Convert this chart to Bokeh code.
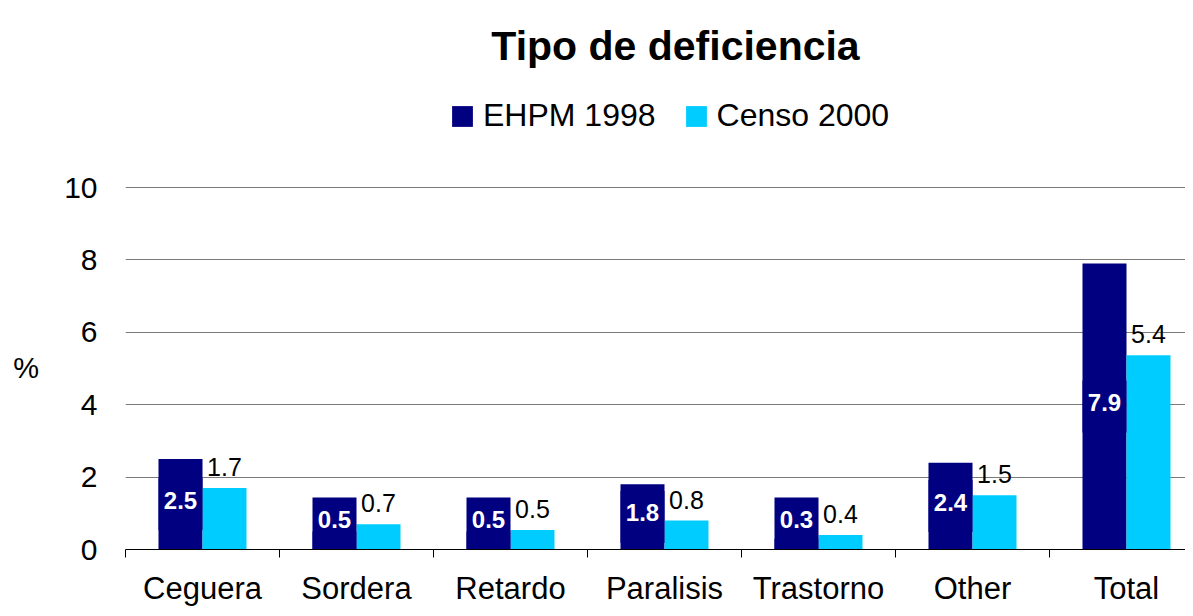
from bokeh.plotting import figure
from bokeh.layouts import column
from bokeh.models import (ColumnDataSource, Range1d, FixedTicker, Label, Legend, LegendItem)
from bokeh.embed import file_html
from bokeh.resources import INLINE
from bokeh.core.properties import value

# ---- data ----
categories = ["Ceguera", "Sordera", "Retardo", "Paralisis", "Trastorno", "Other", "Total"]
ehpm_1998 = [2.5, 0.5, 0.5, 1.8, 0.3, 2.4, 7.9]
censo_2000 = [1.7, 0.7, 0.54, 0.8, 0.4, 1.5, 5.37]
y_ticks = [0, 2, 4, 6, 8, 10]
title_text = "Tipo de deficiencia"
series_names = ["EHPM 1998", "Censo 2000"]
y_label = "%"

FONT = "Liberation Sans"
NAVY = "#000080"
CYAN = "#00CCFF"

W = 1185
HEADER_H = 166
MAIN_H = 608 - HEADER_H
LEFT = 125
CAT_PX = 154.0
PX_PER_UNIT = 36.3
frame_w = W - LEFT

# ---------------- header (title + legend) ----------------
hdr = figure(width=W, height=HEADER_H, output_backend="svg", toolbar_location=None,
             x_range=Range1d(LEFT, W), y_range=Range1d(HEADER_H, 0),
             x_axis_type=None, y_axis_type=None, outline_line_color=None,
             min_border_left=LEFT, min_border_right=0, min_border_top=0, min_border_bottom=0)
hdr.xgrid.grid_line_color = None
hdr.ygrid.grid_line_color = None

hdr.add_layout(Label(x=675, y=45, text=title_text, text_font=FONT, text_font_style="bold",
                     text_font_size="41px", text_align="center", text_baseline="alphabetic",
                     text_color="black"))

# legend swatches (renderers hold no visible point)
swatch = ColumnDataSource(dict(x=[float("nan")], top=[float("nan")]))
lr_d = hdr.vbar(x="x", top="top", width=1, source=swatch, fill_color=NAVY, line_color=None)
lr_l = hdr.vbar(x="x", top="top", width=1, source=swatch, fill_color=CYAN, line_color=None)
legend = Legend(items=[LegendItem(label=series_names[0], renderers=[lr_d]),
                       LegendItem(label=series_names[1], renderers=[lr_l])],
                location=(449 - LEFT, 32), orientation="horizontal", padding=0, margin=0,
                border_line_color=None, background_fill_alpha=0,
                glyph_width=26, glyph_height=26, label_standoff=8, spacing=27,
                label_text_font=FONT, label_text_font_size="32px", label_height=26,
                label_text_color="black")
hdr.add_layout(legend, "center")

# ---------------- main chart ----------------
centers = [i + 0.5 for i in range(len(categories))]
bw = 0.2857
x_dark = [c - bw / 2 for c in centers]
x_light = [c + bw / 2 for c in centers]
box_h_px = 52
box_y = [max(v / 2, (box_h_px / 2) / PX_PER_UNIT) for v in ehpm_1998]

src = ColumnDataSource(dict(
    xd=x_dark, xl=x_light, ehpm=ehpm_1998, censo=censo_2000, box_y=box_y,
    lab_d=[f"{v:.1f}" for v in ehpm_1998],
    lab_l=[f"{v:.1f}" for v in censo_2000],
))

p = figure(width=W, height=MAIN_H, output_backend="svg", toolbar_location=None,
           x_range=Range1d(0, frame_w / CAT_PX), y_range=Range1d(0, 10.03),
           min_border_left=LEFT, min_border_right=0, min_border_top=20,
           min_border_bottom=59, outline_line_color=None)

p.ygrid.ticker = FixedTicker(ticks=y_ticks[1:])
p.ygrid.grid_line_color = "#7a7a7a"
p.ygrid.grid_line_width = 1
p.xgrid.grid_line_color = None

p.vbar(x="xd", top="ehpm", bottom=0, width=bw, source=src, fill_color=NAVY, line_color=None)
p.vbar(x="xl", top="censo", bottom=0, width=bw, source=src, fill_color=CYAN, line_color=None)
# navy label boxes behind dark-series labels
p.rect(x="xd", y="box_y", width=bw, height=box_h_px, height_units="screen",
       source=src, fill_color=NAVY, line_color=None)

p.text(x="xd", y="box_y", text="lab_d", source=src, text_align="center",
       text_baseline="middle", y_offset=-4, text_color="white",
       text_font=value(FONT), text_font_style="bold", text_font_size="24px")
p.text(x="xl", y="censo", text="lab_l", source=src, text_align="center",
       text_baseline="alphabetic", y_offset=-21, text_color="black",
       text_font=value(FONT), text_font_size="25px")

# y axis
ya = p.yaxis[0]
ya.ticker = FixedTicker(ticks=y_ticks)
ya.axis_line_color = None
ya.major_tick_line_color = None
ya.minor_tick_line_color = None
ya.major_tick_out = 0
ya.major_tick_in = 0
ya.major_label_standoff = 28
ya.major_label_text_font = FONT
ya.major_label_text_font_size = "30px"
ya.major_label_text_color = "black"
ya.axis_label = y_label
ya.axis_label_text_font = FONT
ya.axis_label_text_font_size = "29px"
ya.axis_label_text_font_style = "normal"
ya.axis_label_text_color = "black"
ya.axis_label_standoff = 22
try:
    ya.axis_label_orientation = "horizontal"
except Exception:
    pass

# x axis
xa = p.xaxis[0]
xa.ticker = FixedTicker(ticks=centers, minor_ticks=list(range(len(categories))))
xa.major_label_overrides = {c: name for c, name in zip(centers, categories)}
xa.axis_line_color = "black"
xa.axis_line_width = 1
xa.major_tick_line_color = None
xa.major_tick_out = 0
xa.major_tick_in = 0
xa.minor_tick_line_color = "black"
xa.minor_tick_out = 8
xa.minor_tick_in = 0
xa.major_label_standoff = 13
xa.major_label_text_font = FONT
xa.major_label_text_font_size = "31px"
xa.major_label_text_color = "black"

layout = column(hdr, p, spacing=0)
open("out.html", "w").write(file_html(layout, INLINE))
